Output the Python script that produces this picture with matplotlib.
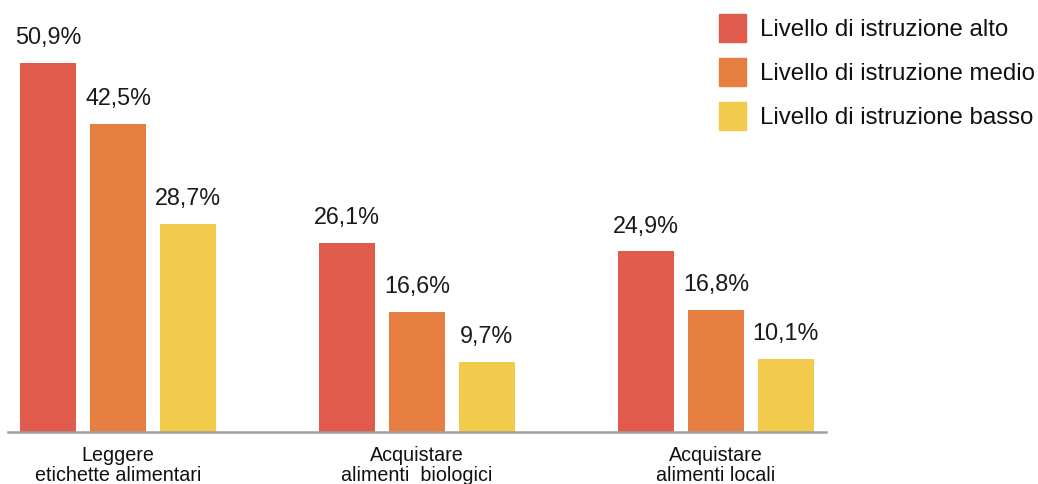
import numpy as np
import matplotlib.pyplot as plt
from matplotlib.patches import Patch

plt.rcParams['font.family'] = ['Liberation Sans', 'DejaVu Sans']

categories = ['Leggere\netichette alimentari', 'Acquistare\nalimenti  biologici', 'Acquistare\nalimenti locali']
series = ['Livello di istruzione alto', 'Livello di istruzione medio', 'Livello di istruzione basso']
alto = [50.9, 26.1, 24.9]
medio = [42.5, 16.6, 16.8]
basso = [28.7, 9.7, 10.1]
colors = ['#E05B4B', '#E57E40', '#F2CB4D']

fig = plt.figure(figsize=(10.38, 4.84), dpi=100)
# axes spans pixels x 8..826, y 0..432 (from top)
ax = fig.add_axes([8 / 1038, (484 - 432) / 484, 818 / 1038, 432 / 484])

x = np.arange(len(categories))
w = 0.187
off = 0.234
for i, (vals, c) in enumerate(zip([alto, medio, basso], colors)):
    pos = x + (i - 1) * off
    bars = ax.bar(pos, vals, width=w, color=c, zorder=2)
    for b, v in zip(bars, vals):
        ax.annotate(('%.1f%%' % v).replace('.', ','),
                    (b.get_x() + b.get_width() / 2, v),
                    xytext=(0, 10), textcoords='offset points',
                    ha='center', va='bottom', fontsize=16.8, color='#1a1a1a')

ax.set_xlim(-0.368, 2.368)
ax.set_ylim(0, 432 / 7.25)

for s in ['top', 'right', 'left']:
    ax.spines[s].set_visible(False)
ax.spines['bottom'].set_color('#a0a0a0')
ax.spines['bottom'].set_linewidth(1.8)
ax.set_yticks([])

ax.set_xticks(x)
ax.set_xticklabels(categories, fontsize=14.2, color='#111111', linespacing=1.05)
ax.tick_params(axis='x', length=0, pad=10)

handles = [Patch(color=c) for c in colors]
fig.legend(handles, series, loc='upper left', bbox_to_anchor=(719 / 1038, 1 - 14 / 484),
           frameon=False, fontsize=17.3, handlelength=1.125, handleheight=1.418,
           handletextpad=0.58, labelspacing=0.67, borderpad=0, borderaxespad=0,
           labelcolor='#111111')

fig.savefig('out.png', dpi=100)
